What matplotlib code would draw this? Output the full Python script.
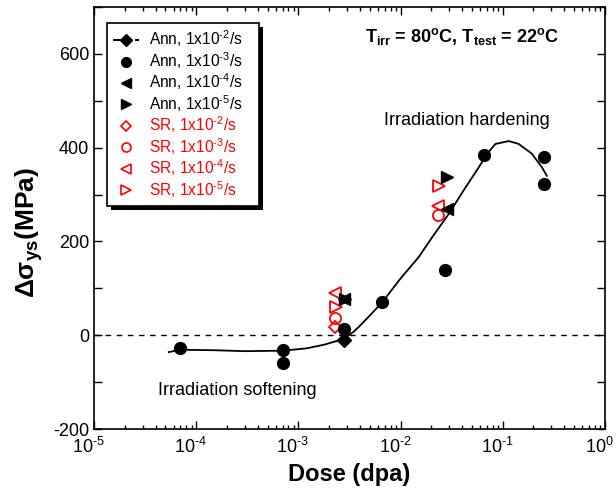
import matplotlib
matplotlib.use("Agg")
import matplotlib.pyplot as plt
import matplotlib.transforms as mtransforms
from matplotlib.lines import Line2D
from matplotlib.patches import Rectangle
from matplotlib.ticker import LogLocator, MultipleLocator, NullFormatter

plt.rcParams['font.family'] = ['Liberation Sans', 'DejaVu Sans']
plt.rcParams['mathtext.fontset'] = 'custom'
plt.rcParams['mathtext.rm'] = 'Liberation Sans'
plt.rcParams['mathtext.it'] = 'Liberation Sans:italic'
plt.rcParams['mathtext.bf'] = 'Liberation Sans:bold'
plt.rcParams['axes.unicode_minus'] = False

# --- data ---
ann2_x = [2.8e-3]
ann2_y = [-11]
ann3_x = [7e-5, 7e-4, 7e-4, 2.8e-3, 6.6e-3, 2.7e-2, 6.5e-2, 0.255, 0.255]
ann3_y = [-28, -32, -60, 13, 70, 140, 385, 379, 323]
ann4_x = [2.8e-3, 2.85e-2]
ann4_y = [78, 270]
ann5_x = [2.85e-3, 2.85e-2]
ann5_y = [78, 337]
sr2_x = [2.3e-3]
sr2_y = [17]
sr3_x = [2.3e-3, 2.35e-2]
sr3_y = [36, 256]
sr4_x = [2.3e-3, 2.35e-2]
sr4_y = [91, 275]
sr5_x = [2.35e-3, 2.4e-2]
sr5_y = [60, 319]

fit_x = [5.4e-5, 7e-5, 1.5e-4, 3e-4, 7e-4, 1.2e-3, 1.8e-3, 2.4e-3, 2.9e-3, 3.5e-3,
         4.0e-3, 5e-3, 6.6e-3, 1.0e-2, 1.51e-2, 2.04e-2, 2.97e-2, 4.32e-2,
         5.83e-2, 7.03e-2, 8.5e-2, 0.1146, 0.143, 0.193, 0.242, 0.27]
fit_y = [-36, -31, -32, -34, -33, -28, -20, -12, -5, 8,
         20, 42, 70, 121, 167, 209, 259, 315,
         358, 387, 408, 414, 408, 387, 358, 340]

x_ticks = [1e-5, 1e-4, 1e-3, 1e-2, 1e-1, 1e0]
x_ticklabels = ['10$^{\\text{-5}}$', '10$^{\\text{-4}}$', '10$^{\\text{-3}}$',
                '10$^{\\text{-2}}$', '10$^{\\text{-1}}$', '10$^{\\text{0}}$']
y_ticks = [-200, 0, 200, 400, 600]

fig = plt.figure(figsize=(6.16, 4.97), dpi=100)
ax = fig.add_axes([0.1526, 0.1368, 0.982 - 0.1526, 0.986 - 0.1368])

ax.axhline(0, color='k', ls=(0, (4, 4)), lw=1.0, zorder=1)
ax.plot(fit_x, fit_y, color='k', lw=1.3, zorder=2)

ms = 8.5
ax.plot(ann2_x, ann2_y, 'D', color='k', ms=7.5, ls='none', zorder=4)
ax.plot(ann3_x, ann3_y, 'o', color='k', ms=ms, ls='none', zorder=4)
ax.plot(ann4_x, ann4_y, '<', color='k', ms=ms, ls='none', zorder=4)
ax.plot(ann5_x, ann5_y, '>', color='k', ms=ms, ls='none', zorder=4)
ax.plot(sr2_x, sr2_y, 'D', mfc='none', mec='red', ms=6.5, mew=1.3, ls='none', zorder=3)
ax.plot(sr3_x, sr3_y, 'o', mfc='none', mec='red', ms=8, mew=1.3, ls='none', zorder=3)
ax.plot(sr4_x, sr4_y, '<', mfc='none', mec='red', ms=8.5, mew=1.3, ls='none', zorder=3)
ax.plot(sr5_x, sr5_y, '>', mfc='none', mec='red', ms=8.5, mew=1.3, ls='none', zorder=3)

ax.set_xscale('log')
ax.set_xlim(1e-5, 1)
ax.set_ylim(-200, 700)
ax.set_xticks(x_ticks)
ax.set_xticklabels(x_ticklabels)
ax.set_yticks(y_ticks)
ax.yaxis.set_minor_locator(MultipleLocator(100))
ax.xaxis.set_minor_locator(LogLocator(base=10, subs=range(2, 10), numticks=20))
ax.xaxis.set_minor_formatter(NullFormatter())
ax.tick_params(which='both', direction='in', top=True, right=True, labelsize=13)
ax.tick_params(which='major', length=6, width=1.0)
ax.tick_params(axis='y', which='minor', length=6, width=1.0)
ax.tick_params(axis='x', which='minor', length=3, width=1.0)
ax.tick_params(axis='x', pad=6)
for s in ax.spines.values():
    s.set_linewidth(1.2)

shift = mtransforms.ScaledTranslation(-4 / 72, 0, fig.dpi_scale_trans)
for lbl in ax.get_xticklabels():
    lbl.set_transform(lbl.get_transform() + shift)

ax.set_xlabel('Dose (dpa)', fontsize=17, fontweight='bold', labelpad=4)
ax.set_ylabel('Δσ$_\\mathbf{ys}$(MPa)', fontsize=19, fontweight='bold')
ax.yaxis.set_label_coords(-0.095, 0.465)

ax.text(0.72, 0.93, 'T$_\\mathbf{irr}$ = 80$^\\mathbf{o}$C, T$_\\mathbf{test}$ = 22$^\\mathbf{o}$C',
        transform=ax.transAxes, ha='center', va='center', fontsize=13, fontweight='bold')
ax.text(0.73, 0.732, 'Irradiation hardening', transform=ax.transAxes,
        ha='center', va='center', fontsize=13)
ax.text(0.28, 0.092, 'Irradiation softening', transform=ax.transAxes,
        ha='center', va='center', fontsize=13)

handles = [
    Line2D([], [], color='k', ls='--', marker='D', ms=6),
    Line2D([], [], color='k', ls='none', marker='o', ms=7),
    Line2D([], [], color='k', ls='none', marker='<', ms=7),
    Line2D([], [], color='k', ls='none', marker='>', ms=7),
    Line2D([], [], mec='red', mfc='none', ls='none', marker='D', ms=5.5, mew=1.2),
    Line2D([], [], mec='red', mfc='none', ls='none', marker='o', ms=6.5, mew=1.2),
    Line2D([], [], mec='red', mfc='none', ls='none', marker='<', ms=7, mew=1.2),
    Line2D([], [], mec='red', mfc='none', ls='none', marker='>', ms=7, mew=1.2),
]
labels = ['Ann, 1x10$^{\\text{-2}}$/s', 'Ann, 1x10$^{\\text{-3}}$/s',
          'Ann, 1x10$^{\\text{-4}}$/s', 'Ann, 1x10$^{\\text{-5}}$/s',
          'SR, 1x10$^{\\text{-2}}$/s', 'SR, 1x10$^{\\text{-3}}$/s',
          'SR, 1x10$^{\\text{-4}}$/s', 'SR, 1x10$^{\\text{-5}}$/s']
leg = ax.legend(handles, labels, loc='upper left', bbox_to_anchor=(0.025, 0.963),
                borderaxespad=0,
                fontsize=11.2, frameon=False,
                handlelength=1.7, handletextpad=0.6, labelspacing=0.05,
                borderpad=0.4)
leg.set_zorder(6)
for i, t in enumerate(leg.get_texts()):
    t.set_color('k' if i < 4 else 'red')

# draw a wider framed box with a solid black shadow behind the legend
fig.canvas.draw()
bb = leg.legendPatch.get_window_extent()
extra = 10
ident = mtransforms.IdentityTransform()
shadow_rect = Rectangle((bb.x0 + 4, bb.y0 - 4), bb.width + extra, bb.height,
                        transform=ident, facecolor='k', edgecolor='none',
                        clip_on=False, zorder=5)
frame_rect = Rectangle((bb.x0, bb.y0), bb.width + extra, bb.height,
                       transform=ident, facecolor='white', edgecolor='k', lw=1.2,
                       clip_on=False, zorder=5.5)
ax.add_artist(shadow_rect)
ax.add_artist(frame_rect)

fig.savefig('out.png', dpi=100)
